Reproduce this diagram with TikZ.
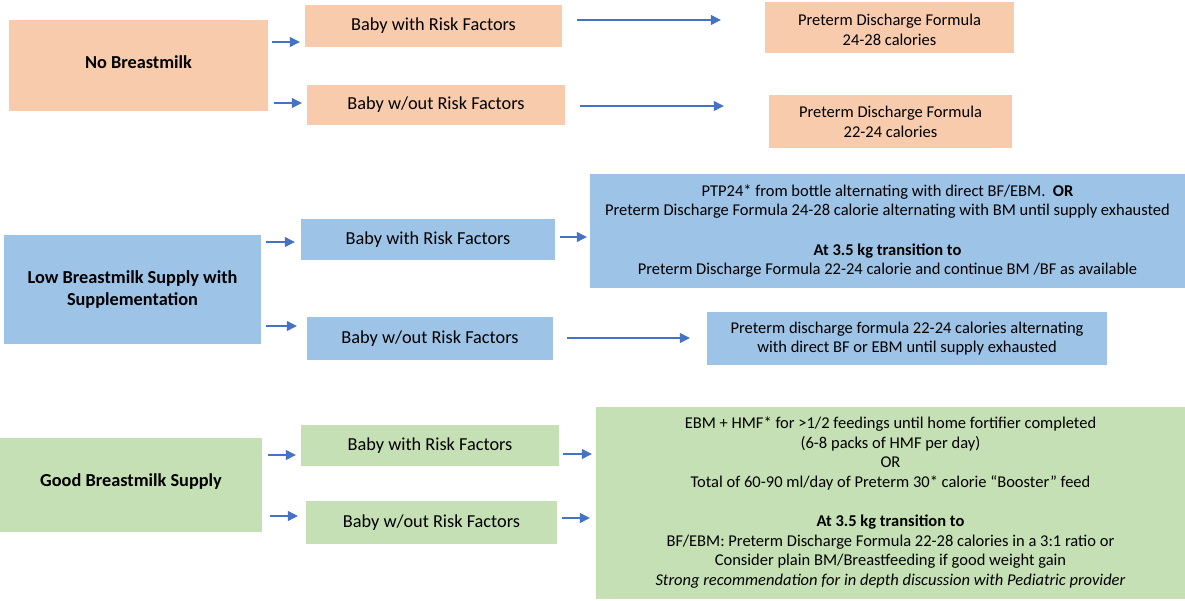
\documentclass[tikz,border=0pt]{standalone}
\usepackage{fontspec}
\setmainfont{Carlito}
\usetikzlibrary{arrows.meta}
\definecolor{peachc}{HTML}{F8CBAD}
\definecolor{bluec}{HTML}{9DC3E6}
\definecolor{greenc}{HTML}{C5E0B4}
\definecolor{arrc}{HTML}{4472C4}
\tikzset{
  lvl/.style={inner sep=0pt, align=center, font=\fontsize{18.3}{22.4}\selectfont},
  res/.style={inner sep=0pt, align=center, font=\fontsize{16.5}{19.6}\selectfont},
  ressmall/.style={res, font=\fontsize{16.5}{20.2}\selectfont},
  title/.style={lvl, font=\fontsize{18.3}{22.6}\selectfont\bfseries},
  arr/.style={draw=arrc, line width=1.2pt, -{Triangle[length=10pt,width=10pt]}},
}
\begin{document}
\begin{tikzpicture}[x=1pt,y=-1pt]
\useasboundingbox (0,0) rectangle (1185,600);
% top section
\node[title, fill=peachc, minimum width=259, minimum height=91] (nb) at (138.5,65.5) {\raisebox{3pt}[\height][\depth]{No Breastmilk}};
\node[lvl, fill=peachc, minimum width=257, minimum height=42] (bw1) at (433.5,26) {Baby with Risk Factors};
\node[lvl, fill=peachc, minimum width=258, minimum height=40] (bo1) at (436,105) {Baby w/out Risk Factors};
\node[ressmall, fill=peachc, minimum width=249, minimum height=51] (r1) at (889.5,27.5) {\raisebox{-2pt}[\height][\depth]{Preterm Discharge Formula}\\\raisebox{-2pt}[\height][\depth]{24-28 calories}};
\node[ressmall, fill=peachc, minimum width=243, minimum height=53] (r2) at (890.5,121.5) {Preterm Discharge Formula\\22-24 calories};
% middle section
\node[title, fill=bluec, minimum width=257, minimum height=109] (lb) at (132.5,289.5) {Low Breastmilk Supply with\\Supplementation};
\node[lvl, fill=bluec, minimum width=254, minimum height=41] (bw2) at (428,239.5) {Baby with Risk Factors};
\node[lvl, fill=bluec, minimum width=246, minimum height=43] (bo2) at (430,338.5) {Baby w/out Risk Factors};
\node[res, fill=bluec, minimum width=595, minimum height=114] (r3) at (887.5,231) {PTP24* from bottle alternating with direct BF/EBM.\ \ \textbf{OR}\\Preterm Discharge Formula 24-28 calorie alternating with BM until supply exhausted\\[19.6pt]\textbf{At 3.5 kg transition to}\\Preterm Discharge Formula 22-24 calorie and continue BM /BF as available};
\node[res, fill=bluec, minimum width=400, minimum height=53] (r4) at (907,338.5) {Preterm discharge formula 22-24 calories alternating\\with direct BF or EBM until supply exhausted};
% bottom section
\node[title, fill=greenc, minimum width=262, minimum height=94] (gb) at (131,485) {\raisebox{3pt}[\height][\depth]{Good Breastmilk Supply}};
\node[lvl, fill=greenc, minimum width=258, minimum height=41] (bw3) at (430,445.5) {Baby with Risk Factors};
\node[lvl, fill=greenc, minimum width=251, minimum height=43] (bo3) at (431.5,522.5) {Baby w/out Risk Factors};
\node[res, fill=greenc, minimum width=589, minimum height=192] (r5) at (890.5,502.5) {EBM + HMF* for >1/2 feedings until home fortifier completed\\(6-8 packs of HMF per day)\\OR\\Total of 60-90 ml/day of Preterm 30* calorie “Booster” feed\\[19.6pt]\textbf{At 3.5 kg transition to}\\BF/EBM: Preterm Discharge Formula 22-28 calories in a 3:1 ratio or\\Consider plain BM/Breastfeeding if good weight gain\\\textit{Strong recommendation for in depth discussion with Pediatric provider}};
% arrows
\draw[arr, shorten <=4pt, shorten >=5pt] (nb.east |- 0,42) -- (bw1.west |- 0,42);
\draw[arr, shorten <=6pt, shorten >=5pt] (nb.east |- 0,103) -- (bo1.west |- 0,103);
\draw[arr, shorten <=15pt, shorten >=44pt] (bw1.east |- 0,20) -- (r1.west |- 0,20);
\draw[arr, shorten <=15pt, shorten >=45pt] (bo1.east |- 0,106) -- (r2.west |- 0,106);
\draw[arr, shorten <=5pt, shorten >=6pt] (lb.east |- 0,242) -- (bw2.west |- 0,242);
\draw[arr, shorten <=5pt, shorten >=10pt] (lb.east |- 0,326) -- (bo2.west |- 0,326);
\draw[arr, shorten <=5pt, shorten >=3pt] (bw2.east |- 0,237) -- (r3.west |- 0,237);
\draw[arr, shorten <=14pt, shorten >=17pt] (bo2.east |- 0,338) -- (r4.west |- 0,338);
\draw[arr, shorten <=6pt, shorten >=5pt] (gb.east |- 0,455) -- (bw3.west |- 0,455);
\draw[arr, shorten <=8pt, shorten >=8pt] (gb.east |- 0,516) -- (bo3.west |- 0,516);
\draw[arr, shorten <=4pt, shorten >=4pt] (bw3.east |- 0,454) -- (r5.west |- 0,454);
\draw[arr, shorten <=5pt, shorten >=6pt] (bo3.east |- 0,518) -- (r5.west |- 0,518);
\end{tikzpicture}
\end{document}
